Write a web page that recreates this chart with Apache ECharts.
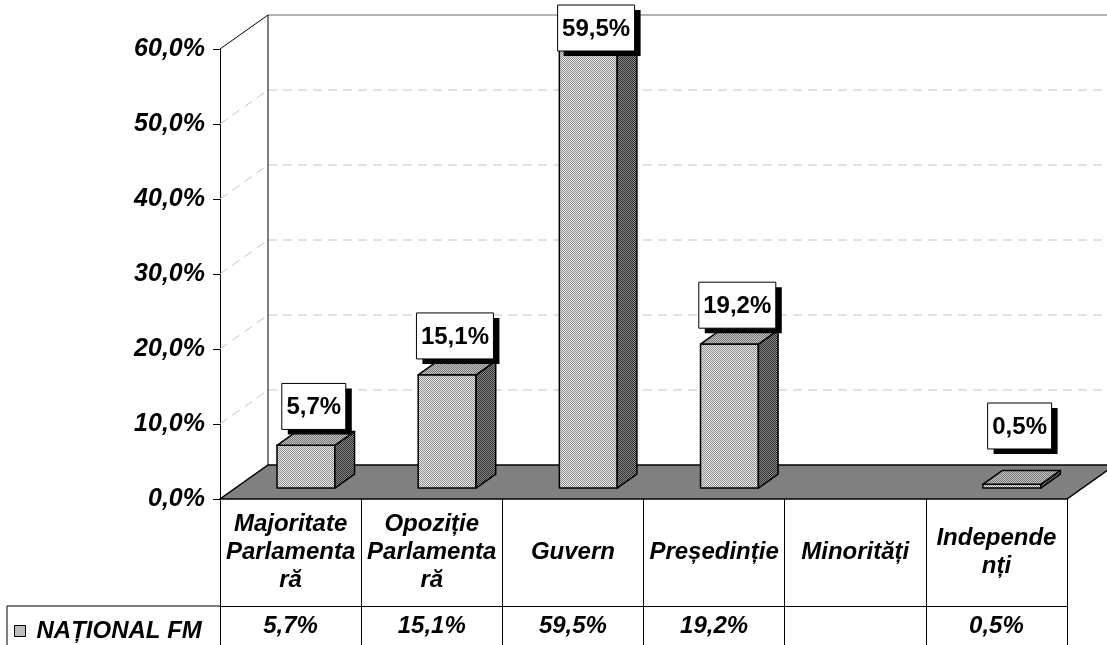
<!DOCTYPE html>
<html><head><meta charset="utf-8">
<script src="https://cdn.jsdelivr.net/npm/echarts@6/dist/echarts.min.js"></script>
<style>html,body{margin:0;padding:0;background:#fff}#c{width:1107px;height:645px}</style>
</head><body><div id="c"></div>
<script>
// ---- data ----
const categories = ['Majoritate\nParlamenta\nră', 'Opoziție\nParlamenta\nră', 'Guvern', 'Președinție', 'Minorități', 'Independe\nnți'];
const seriesName = 'NAȚIONAL FM';
const values = [5.7, 15.1, 59.5, 19.2, null, 0.5];
const yMin = 0, yMax = 60, yInterval = 10;

const fmt = v => v.toFixed(1).replace('.', ',') + '%';
const valueLabels = values.map(v => v == null ? '' : fmt(v));

// ---- style ----
const FONT = 'Arial, "Liberation Sans", sans-serif';
const DEPTH = [48, -34];
const F0 = 0.32, F1 = 0.73;
const BAR_W = 0.41;

function pattern(a, b) {
  const c = document.createElement('canvas'); c.width = 2; c.height = 2;
  const x = c.getContext('2d');
  x.fillStyle = a; x.fillRect(0, 0, 2, 2);
  x.fillStyle = b; x.fillRect(0, 0, 1, 1); x.fillRect(1, 1, 1, 1);
  return { image: c, repeat: 'repeat' };
}
const frontFill = pattern('#ececec', '#8c8c8c');
const sideFill = pattern('#8a8a8a', '#2e2e2e');
const topFill = pattern('#c4c4c4', '#777777');

const mctx = document.createElement('canvas').getContext('2d');
function textW(t, font) { mctx.font = font; return mctx.measureText(t).width; }

function renderFrame(params, api) {
  const n = categories.length;
  const bw = api.size([1, 0])[0];
  const xl = api.coord([0, 0])[0] - bw / 2;
  const xr = api.coord([n - 1, 0])[0] + bw / 2;
  const y0 = api.coord([0, yMin])[1];
  const yt = api.coord([0, yMax])[1];
  const dx = DEPTH[0], dy = DEPTH[1];
  const ch = [];
  const dash = { stroke: '#c4c4c4', lineWidth: 1, lineDash: [9, 6] };
  for (let v = yMin + yInterval; v < yMax; v += yInterval) {
    const y = api.coord([0, v])[1];
    ch.push({ type: 'line', shape: { x1: xl, y1: y, x2: xl + dx, y2: y + dy }, style: dash });
    ch.push({ type: 'line', shape: { x1: xl + dx, y1: y + dy, x2: xr + dx, y2: y + dy }, style: dash });
  }
  ch.push({ type: 'line', shape: { x1: xl + dx, y1: yt + dy, x2: xr + dx, y2: yt + dy }, style: { stroke: '#666', lineWidth: 1 } });
  ch.push({ type: 'line', shape: { x1: xl, y1: yt, x2: xl + dx, y2: yt + dy }, style: { stroke: '#000', lineWidth: 1 } });
  ch.push({ type: 'line', shape: { x1: xl + dx, y1: yt + dy, x2: xl + dx, y2: y0 + dy }, style: { stroke: '#000', lineWidth: 1 } });
  ch.push({ type: 'polygon', shape: { points: [[xl, y0], [xr, y0], [xr + dx, y0 + dy], [xl + dx, y0 + dy]] },
    style: { fill: '#808080', stroke: '#000', lineWidth: 1.5 } });
  return { type: 'group', children: ch };
}

function renderBar(params, api) {
  const i = api.value(0), v = api.value(1);
  const top = api.coord([i, v]), base = api.coord([i, 0]);
  const w = api.size([1, 0])[0] * BAR_W;
  const dx = DEPTH[0], dy = DEPTH[1];
  const ax = top[0] - w / 2 + dx * F0, bx = ax + w;
  const ty = top[1] + dy * F0, by = base[1] + dy * F0;
  const ddx = dx * (F1 - F0), ddy = dy * (F1 - F0);
  const st = f => ({ fill: f, stroke: '#000', lineWidth: 1.5, lineJoin: 'round' });
  const ch = [
    { type: 'polygon', shape: { points: [[ax, ty], [bx, ty], [bx, by], [ax, by]] }, style: st(frontFill) },
    { type: 'polygon', shape: { points: [[bx, ty], [bx + ddx, ty + ddy], [bx + ddx, by + ddy], [bx, by]] }, style: st(sideFill) },
    { type: 'polygon', shape: { points: [[ax, ty], [bx, ty], [bx + ddx, ty + ddy], [ax + ddx, ty + ddy]] }, style: st(topFill) }
  ];
  const txt = fmt(v);
  const lf = 'bold 24px ' + FONT;
  const boxW = Math.round(textW(txt, lf) + 9), boxH = 46;
  const floorBack = base[1] + dy;
  const bottom = Math.min(ty + ddy - 2, floorBack - 16);
  const topY = Math.max(5, bottom - boxH);
  const cx = (ax + bx) / 2 + ddx / 2 - 2;
  ch.push({ type: 'rect', shape: { x: cx - boxW / 2 + 6, y: topY + 5, width: boxW, height: boxH }, style: { fill: '#000' } });
  ch.push({ type: 'rect', shape: { x: cx - boxW / 2, y: topY, width: boxW, height: boxH }, style: { fill: '#fff', stroke: '#000', lineWidth: 1 } });
  ch.push({ type: 'text', style: { x: cx, y: topY + boxH / 2 + 1, text: txt, align: 'center', verticalAlign: 'middle', font: lf, fill: '#000' } });
  return { type: 'group', children: ch };
}

const tableFont = { fontFamily: FONT, fontWeight: 'bold', fontStyle: 'italic', fontSize: 24, color: '#000' };

const chart = echarts.init(document.getElementById('c'), null, { renderer: 'canvas' });
chart.setOption({
  animation: false,
  backgroundColor: '#fff',
  grid: { left: 220, right: 40, top: 49, bottom: 146, containLabel: false },
  legend: {
    left: 9, top: 614, icon: 'rect', itemWidth: 11, itemHeight: 11,
    data: [seriesName], selectedMode: false,
    itemStyle: { color: frontFill, borderColor: '#000', borderWidth: 1 },
    textStyle: Object.assign({ padding: [0, 0, 0, 6] }, tableFont)
  },
  xAxis: [
    {
      type: 'category', data: categories, position: 'bottom',
      axisLine: { show: false },
      axisTick: { show: true, length: 146, interval: 0, alignWithLabel: false, lineStyle: { color: '#000', width: 1 } },
      axisLabel: Object.assign({ interval: 0, margin: 53, verticalAlign: 'middle', lineHeight: 28, align: 'center' }, tableFont),
      splitLine: { show: false }
    },
    {
      type: 'category', data: valueLabels, position: 'bottom', offset: 107,
      axisLine: { show: true, lineStyle: { color: '#000', width: 1 } },
      axisTick: { show: false },
      axisLabel: Object.assign({ interval: 0, margin: 20, verticalAlign: 'middle' }, tableFont),
      splitLine: { show: false }
    }
  ],
  yAxis: {
    type: 'value', min: yMin, max: yMax, interval: yInterval,
    axisLine: { show: true, lineStyle: { color: '#000', width: 1 } },
    axisTick: { show: true, length: 7, lineStyle: { color: '#000' } },
    splitLine: { show: false },
    axisLabel: Object.assign({ formatter: v => fmt(v), margin: 15 }, tableFont, { fontSize: 25 })
  },
  graphic: [
    { type: 'line', shape: { x1: 7, y1: 606, x2: 220, y2: 606 }, style: { stroke: '#000', lineWidth: 1 } },
    { type: 'line', shape: { x1: 7, y1: 606, x2: 7, y2: 645 }, style: { stroke: '#000', lineWidth: 1 } }
  ],
  series: [
    { type: 'custom', renderItem: renderFrame, data: [[0, 0]], z: 1, silent: true, encode: { x: 0, y: 1 } },
    {
      type: 'custom', name: seriesName, renderItem: renderBar, z: 3, silent: true,
      itemStyle: { color: '#b8b8b8' },
      encode: { x: 0, y: 1 },
      data: values.map((v, i) => [i, v]).filter(d => d[1] != null)
    }
  ]
});
</script></body></html>
